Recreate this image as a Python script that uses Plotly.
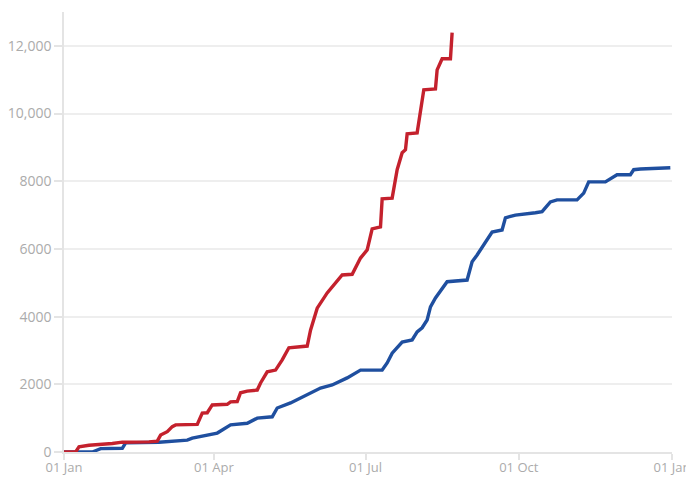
import plotly.graph_objects as go

red_dates = ["2023-01-01", "2023-01-08", "2023-01-10", "2023-01-16", "2023-01-30", "2023-02-05",
             "2023-02-21", "2023-02-26", "2023-02-28", "2023-03-04", "2023-03-07", "2023-03-09",
             "2023-03-22", "2023-03-25", "2023-03-28", "2023-03-31", "2023-04-09", "2023-04-11",
             "2023-04-15", "2023-04-17", "2023-04-21", "2023-04-27", "2023-04-29", "2023-05-03",
             "2023-05-08", "2023-05-12", "2023-05-16", "2023-05-27", "2023-05-29", "2023-06-02",
             "2023-06-08", "2023-06-13", "2023-06-17", "2023-06-23", "2023-06-28", "2023-07-02",
             "2023-07-05", "2023-07-10", "2023-07-11", "2023-07-17", "2023-07-20", "2023-07-23",
             "2023-07-25", "2023-07-26", "2023-08-01", "2023-08-05", "2023-08-12", "2023-08-13",
             "2023-08-16", "2023-08-21", "2023-08-22"]
red_values = [0, 0, 150, 200, 250, 290,
              300, 320, 500, 600, 750, 800,
              815, 1150, 1160, 1390, 1410, 1480,
              1490, 1750, 1800, 1830, 2040, 2370,
              2420, 2720, 3080, 3130, 3600, 4250,
              4700, 5000, 5230, 5250, 5730, 5970,
              6590, 6650, 7480, 7500, 8340, 8840,
              8930, 9400, 9430, 10700, 10730, 11290,
              11620, 11620, 12390]

blue_dates = ["2023-01-01", "2023-01-18", "2023-01-21", "2023-01-23", "2023-02-05", "2023-02-07",
              "2023-02-27", "2023-03-16", "2023-03-19", "2023-03-25", "2023-04-03", "2023-04-06",
              "2023-04-11", "2023-04-21", "2023-04-27", "2023-05-06", "2023-05-09", "2023-05-17",
              "2023-05-23", "2023-05-29", "2023-06-04", "2023-06-11", "2023-06-20", "2023-06-28",
              "2023-07-11", "2023-07-14", "2023-07-17", "2023-07-23", "2023-07-29", "2023-08-01",
              "2023-08-04", "2023-08-07", "2023-08-09", "2023-08-12", "2023-08-16", "2023-08-19",
              "2023-08-31", "2023-09-03", "2023-09-06", "2023-09-11", "2023-09-15", "2023-09-21",
              "2023-09-23", "2023-09-29", "2023-10-09", "2023-10-11", "2023-10-15", "2023-10-20",
              "2023-10-24", "2023-11-05", "2023-11-09", "2023-11-12", "2023-11-22", "2023-11-26",
              "2023-11-29", "2023-12-07", "2023-12-09", "2023-12-13", "2023-12-31"]
blue_values = [0, 0, 60, 100, 110, 270,
               290, 350, 410, 470, 560, 650,
               800, 850, 1000, 1040, 1300, 1450,
               1600, 1740, 1890, 1980, 2190, 2420,
               2420, 2630, 2920, 3250, 3310, 3550,
               3670, 3900, 4290, 4550, 4850, 5030,
               5080, 5620, 5820, 6180, 6500, 6560,
               6920, 7000, 7040, 7070, 7100, 7390,
               7450, 7450, 7650, 7980, 7980, 8100,
               8190, 8190, 8340, 8360, 8400]

x_tickvals = ["2023-01-01", "2023-04-01", "2023-07-01", "2023-10-01", "2024-01-01"]
x_ticktext = ["01 Jan", "01 Apr", "01 Jul", "01 Oct", "01 Jan"]
y_tickvals = [0, 2000, 4000, 6000, 8000, 10000, 12000]
y_ticktext = ["0", "2000", "4000", "6000", "8000", "10,000", "12,000"]

fig = go.Figure()
fig.add_trace(go.Scatter(x=blue_dates, y=blue_values, mode="lines",
                         line=dict(color="#1f4f9f", width=3.4), showlegend=False))
fig.add_trace(go.Scatter(x=red_dates, y=red_values, mode="lines",
                         line=dict(color="#c4212d", width=3.4), showlegend=False))

axis_grey = "#e4e4e4"
fig.update_layout(
    width=686, height=470,
    margin=dict(l=56, r=22, t=4, b=26, autoexpand=False),
    paper_bgcolor="white", plot_bgcolor="white",
    font=dict(family="Open Sans", size=14, color="#ababab"),
    xaxis=dict(range=["2023-01-01", "2024-01-01"], tickvals=x_tickvals, ticktext=x_ticktext,
               showgrid=False, showline=True, linecolor=axis_grey, linewidth=1.5,
               ticks="outside", ticklen=6, tickcolor=axis_grey, tickwidth=1.5,
               tickfont=dict(size=13), ticklabelstandoff=-3,
               zeroline=False, automargin=False),
    yaxis=dict(range=[0, 13000], tickvals=y_tickvals, ticktext=y_ticktext,
               showgrid=True, gridcolor="#eeeeee", gridwidth=1.5,
               showline=True, linecolor=axis_grey, linewidth=1.5,
               ticks="outside", ticklen=8, tickcolor=axis_grey, tickwidth=1.5,
               zeroline=False, automargin=False),
)

fig.write_html("out.html")
